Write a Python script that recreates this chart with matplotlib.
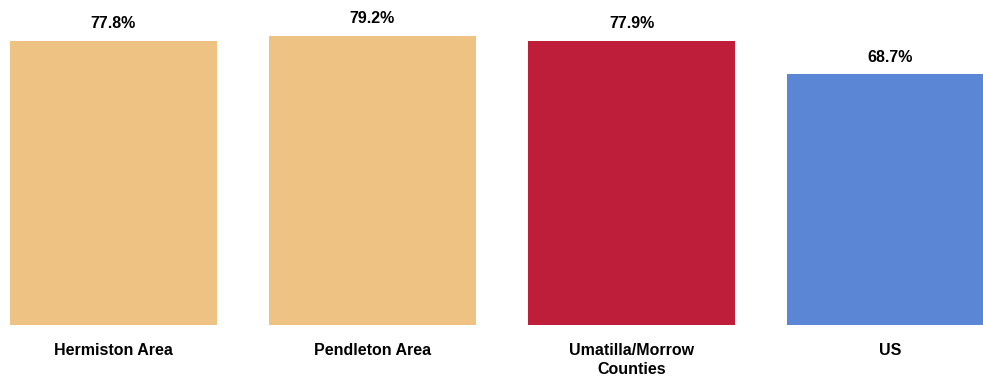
import matplotlib
matplotlib.use("Agg")
import matplotlib.pyplot as plt

# Share of population (%) by area
areas = ["Hermiston Area", "Pendleton Area", "Umatilla/Morrow\nCounties", "US"]
values = [77.8, 79.2, 77.9, 68.7]
colors = ["#EDC283", "#EDC283", "#BE1E3A", "#5B86D6"]

plt.rcParams["font.family"] = ["Liberation Sans Narrow", "Liberation Sans", "DejaVu Sans"]

fig = plt.figure(figsize=(9.83, 3.78), dpi=100)
ax = fig.add_axes([0, 53 / 378, 1, 325 / 378])

x = list(range(len(areas)))
ax.bar(x, values, width=0.8, color=colors)
for xi, v in zip(x, values):
    ax.annotate("%.1f%%" % v, (xi, v), xytext=(0, 7), textcoords="offset points",
                ha="center", va="bottom", fontsize=11.5, fontweight="bold")

ax.set_xlim(-0.438, 3.357)
ax.set_ylim(0, 89.07)
ax.set_xticks(x)
ax.set_xticklabels(areas, fontsize=11.5, fontweight="bold", linespacing=1.35)
ax.tick_params(axis="x", length=0, pad=13)
ax.set_yticks([])
for s in ax.spines.values():
    s.set_visible(False)

fig.savefig("out.png", dpi=100)
